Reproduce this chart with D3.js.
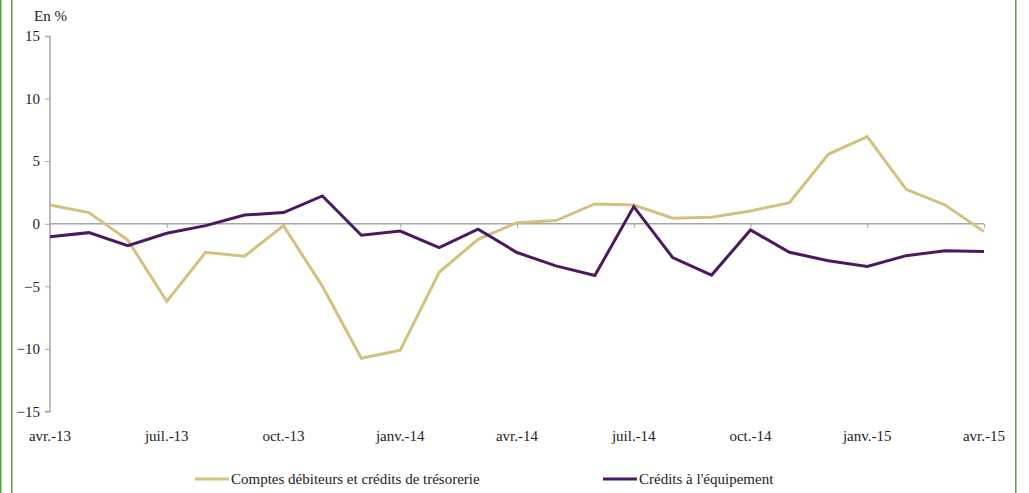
<!DOCTYPE html>
<html><head><meta charset="utf-8">
<script src="https://cdn.jsdelivr.net/npm/d3@7"></script>
<style>body{margin:0;background:#fff} text{font-family:"Liberation Serif","Times New Roman",Times,serif !important}</style>
</head><body><svg id="c" width="1029" height="493"></svg>
<script>
const months = ["avr.-13","mai-13","juin-13","juil.-13","août-13","sept.-13","oct.-13","nov.-13","déc.-13","janv.-14","févr.-14","mars-14","avr.-14","mai-14","juin-14","juil.-14","août-14","sept.-14","oct.-14","nov.-14","déc.-14","janv.-15","févr.-15","mars-15","avr.-15"];
const tickLabels = ["avr.-13","juil.-13","oct.-13","janv.-14","avr.-14","juil.-14","oct.-14","janv.-15","avr.-15"];
const yTicks = [15,10,5,0,-5,-10,-15];
const comptes = [1.5,0.89,-1.3,-6.2,-2.28,-2.6,-0.15,-5.0,-10.75,-10.1,-3.88,-1.24,0.09,0.25,1.58,1.5,0.44,0.52,1.02,1.69,5.55,6.96,2.75,1.5,-0.63];
const equip = [-1.03,-0.71,-1.75,-0.76,-0.15,0.7,0.89,2.22,-0.92,-0.58,-1.91,-0.44,-2.3,-3.37,-4.14,1.37,-2.7,-4.1,-0.5,-2.28,-2.95,-3.42,-2.55,-2.15,-2.22];
const seriesNames = ["Comptes débiteurs et crédits de trésorerie","Crédits à l'équipement"];
const colors = ["#d4c17f","#4b1960"];

const FS = 15;
const svg = d3.select("#c");
const green = "#5a9e3f";
svg.append("rect").attr("x",0).attr("y",0).attr("width",1.5).attr("height",493).attr("fill",green);
svg.append("rect").attr("x",11).attr("y",0).attr("width",1.5).attr("height",493).attr("fill",green);
svg.append("rect").attr("x",1015).attr("y",0).attr("width",1.5).attr("height",493).attr("fill",green);

const x = d3.scalePoint().domain(months).range([50,984]);
const y = d3.scaleLinear().domain([-15,15]).range([411.5,36]);
const axisCol = "#a6a6a6";

const ya = svg.append("g").attr("transform","translate(50,0)")
  .call(d3.axisLeft(y).tickValues(yTicks).tickSize(5).tickPadding(5).tickFormat(d3.format("d")));
ya.select(".domain").attr("stroke",axisCol).attr("stroke-width",1.5).attr("d","M-5,36.5H0V411.5H-5");
ya.selectAll(".tick line").attr("stroke",axisCol).attr("stroke-width",1);
ya.selectAll(".tick text").attr("font-size",FS).attr("fill","#222");

const xa = svg.append("g").attr("transform",`translate(0,${y(0)})`)
  .call(d3.axisBottom(x).tickValues(tickLabels).tickSize(4).tickFormat(""));
xa.select(".domain").attr("stroke",axisCol).attr("stroke-width",1.5).attr("d",`M50,0H984`);
xa.selectAll(".tick line").attr("stroke",axisCol).attr("stroke-width",1);

svg.append("g").selectAll("text").data(tickLabels).join("text")
  .attr("x",d=>x(d)).attr("y",441).attr("text-anchor","middle")
  .attr("font-size",FS).attr("fill","#222").text(d=>d);

svg.append("text").attr("x",34).attr("y",21).attr("font-size",FS).attr("fill","#222").text("En %");

const line = d3.line().x((d,i)=>x(months[i])).y(d=>y(d));
[comptes,equip].forEach((s,i)=>{
  svg.append("path").datum(s).attr("d",line).attr("fill","none")
    .attr("stroke",colors[i]).attr("stroke-width",3).attr("stroke-linejoin","miter");
});

const leg = [{x:195,name:seriesNames[0],c:colors[0]},{x:603,name:seriesNames[1],c:colors[1]}];
leg.forEach(l=>{
  svg.append("line").attr("x1",l.x).attr("x2",l.x+34).attr("y1",479).attr("y2",479)
    .attr("stroke",l.c).attr("stroke-width",3);
  svg.append("text").attr("x",l.x+36).attr("y",484).attr("font-size",FS).attr("fill","#222").text(l.name);
});
</script></body></html>
